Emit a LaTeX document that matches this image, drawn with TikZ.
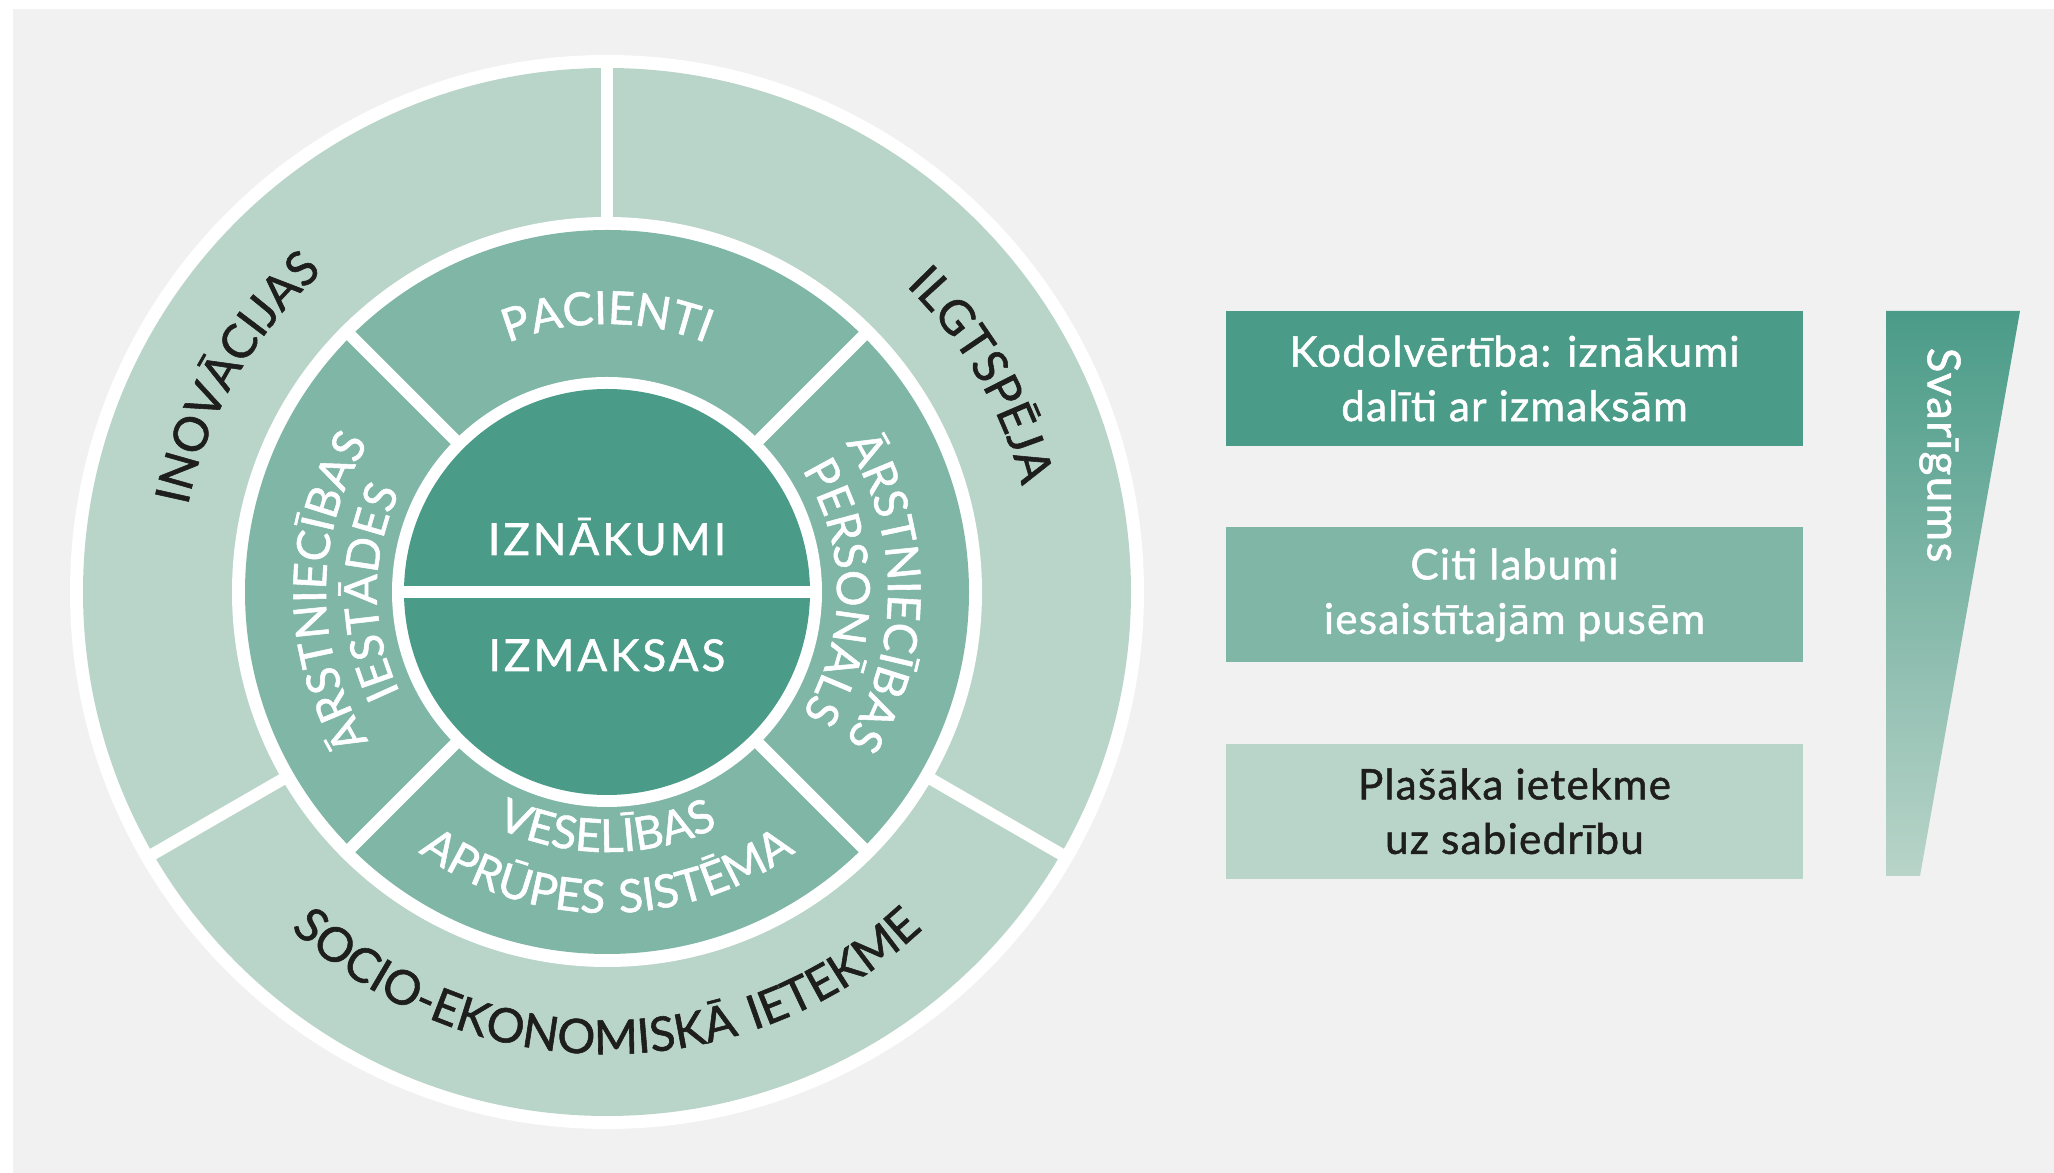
\documentclass[tikz,border=0pt]{standalone}
\usepackage{fontspec}
\setmainfont{Lato}[LetterSpace=3,FakeBold=1.2]
\newfontfamily\capsfont{Lato}[LetterSpace=7,FakeBold=1.2]
\usepackage{tikz}
\usetikzlibrary{positioning,decorations.text}
\definecolor{paperGrey}{HTML}{F1F1F1}
\definecolor{sageLight}{HTML}{B9D4C9}
\definecolor{sageMid}{HTML}{7FB6A6}
\definecolor{sageDark}{HTML}{4A9B88}
\definecolor{inkDark}{HTML}{1E1E1E}
\newcommand{\outerfmt}{\capsfont\fontsize{13.5}{16}\selectfont\color{inkDark}}
\newcommand{\midfmt}{\capsfont\fontsize{13}{16}\selectfont\color{white}}

\begin{document}
\begin{tikzpicture}[
  sep/.style={draw=white,line width=0.12cm},
  curved/.style={decorate,decoration={text along path,text align=center,text={#1}}},
  coretext/.style={font=\capsfont\fontsize{12.5}{14}\selectfont,text=white,anchor=base,inner sep=0pt},
  valbox/.style={rectangle,minimum width=5.77cm,minimum height=1.35cm,inner sep=0pt,align=center,font=\fontsize{12}{15.5}\selectfont}
]
\useasboundingbox (0,0) rectangle (20.54,-11.73);
\fill[white] (0,0) rectangle (20.54,-11.73);
\fill[paperGrey] (0.13,-0.09) rectangle (20.54,-11.73);

\coordinate (hub) at (6.07,-5.92);

\begin{scope}[shift={(hub)}]
% rings, white gaps between them
\foreach \r/\c in {5.37/white,5.24/sageLight,3.75/white,3.62/sageMid,2.15/white,2.03/sageDark}
  \fill[\c] (0,0) circle (\r);
\foreach \a in {90,210,330}
  \draw[sep] (\a:3.7) -- (\a:5.3);
\foreach \a in {45,135,225,315}
  \draw[sep] (\a:2.1) -- (\a:3.7);
\draw[sep] (180:2.1) -- (0:2.1);

% outer ring labels
\path[curved={|\outerfmt|INOVĀCIJAS}] (210:4.28) arc[start angle=210,end angle=90,radius=4.28];
\path[curved={|\outerfmt|ILGTSPĒJA}] (90:4.28) arc[start angle=90,end angle=-30,radius=4.28];
\path[curved={|\outerfmt|SOCIO-EKONOMISKĀ IETEKME}] (210:4.62) arc[start angle=210,end angle=330,radius=4.62];

% middle ring labels
\path[curved={|\midfmt|PACIENTI}] (135:2.68) arc[start angle=135,end angle=45,radius=2.68];
\path[curved={|\midfmt|ĀRSTNIECĪBAS}] (225:2.81) arc[start angle=225,end angle=135,radius=2.81];
\path[curved={|\midfmt|IESTĀDES}] (225:2.30) arc[start angle=225,end angle=135,radius=2.30];
\path[curved={|\midfmt|ĀRSTNIECĪBAS}] (45:2.81) arc[start angle=45,end angle=-45,radius=2.81];
\path[curved={|\midfmt|PERSONĀLS}] (45:2.30) arc[start angle=45,end angle=-45,radius=2.30];
\path[curved={|\midfmt|VESELĪBAS}] (225:2.60) arc[start angle=225,end angle=315,radius=2.60];
\path[curved={|\midfmt|APRŪPES SISTĒMA}] (225:3.21) arc[start angle=225,end angle=315,radius=3.21];

\node[coretext] (outcomes) at (0,0.37) {IZNĀKUMI};
\node[coretext] (costs) at (0,-0.79) {IZMAKSAS};
\end{scope}

% value levels
\node[valbox,fill=sageDark,text=white] (core) at (15.145,-3.785) {Kodolvērtība: iznākumi\\dalīti ar izmaksām};
\node[valbox,fill=sageMid,text=white,below=0.8cm of core] (other) {Citi labumi\\iesaistītajām pusēm};
\node[valbox,fill=sageLight,text=inkDark,below=0.8cm of other] (wider) {Plašāka ietekme\\uz sabiedrību};

\shade[top color=sageDark,bottom color=sageLight] (18.86,-3.11) -- (20.20,-3.11) -- (19.20,-8.76) -- (18.86,-8.76) -- cycle;
\node[rotate=-90,text=white,font=\fontsize{13}{15}\selectfont] (weight) at (19.40,-4.55) {Svarīgums};
\end{tikzpicture}
\end{document}
